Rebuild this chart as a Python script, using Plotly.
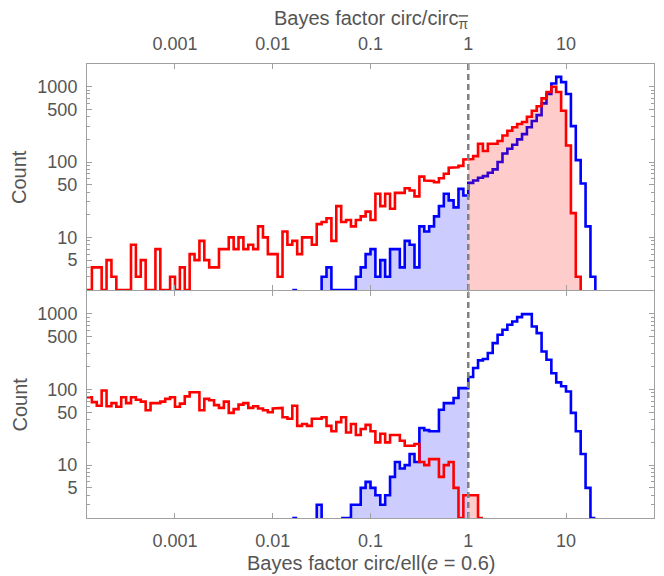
import plotly.graph_objects as go
import math

# ---- histogram data: counts per log10-bin of width 0.05, first bin index given ----
# bin k covers [10**(0.05*k), 10**(0.05*(k+1))]; 0 = empty bin (not drawn)
BIN_W = 0.05

top_red_start = -78
top_red = [1, 4, 4, 1, 5, 3, 1, 1, 1, 8, 3, 5, 1, 1, 7, 1, 1, 3, 1, 4,
           1, 6, 5, 9, 5, 4, 4, 7, 7, 10, 7, 10, 7, 8, 7, 14, 10, 6, 6, 3,
           12, 8, 9, 6, 10, 10, 8, 15, 16, 18, 9, 26, 16, 17, 14, 17, 19, 22, 17, 38,
           26, 38, 24, 39, 39, 45, 42, 35, 64, 57, 56, 54, 61, 70, 84, 85, 89, 108,
           110, 120, 175, 140, 175, 175, 190, 225, 260, 290, 320, 340, 400, 480, 550,
           700, 850, 1000, 850, 480, 166, 21, 3]

top_blue_start = -36
top_blue = [1, 0, 0, 0, 0, 0, 3, 4, 1, 1, 1, 1, 1, 3, 4, 6, 7, 3, 5, 3,
            7, 7, 4, 9, 8, 4, 14, 12, 14, 19, 26, 38, 31, 25, 44, 36,
            53, 57, 62, 65, 72, 80, 100, 130, 150, 170, 200, 235, 290, 350, 420,
            600, 800, 1100, 1350, 1150, 800, 300, 106, 52, 14, 3]

bottom_red_start = -78
bottom_red = [79, 68, 61, 97, 60, 66, 59, 79, 66, 79, 73, 69, 53, 66, 66, 69, 75, 79, 59, 65,
              81, 92, 92, 53, 75, 72, 62, 57, 69, 49, 55, 63, 66, 57, 60, 56, 53, 50, 56, 57,
              43, 41, 61, 33, 35, 33, 41, 41, 43, 33, 28, 37, 43, 27, 35, 25, 30, 34, 28, 20,
              26, 20, 25, 25, 21, 18, 18, 19, 11, 10, 12, 12, 7, 10, 11, 5, 1, 4,
              4, 4, 1]

bottom_blue_start = -36
bottom_blue = [1, 0, 0, 0, 0, 3, 0, 0, 0, 0, 1, 1, 3, 3, 5, 6, 5, 4, 3, 4,
               7, 11, 9, 10, 14, 11, 31, 29, 28, 28, 54, 66, 66, 77, 104, 104,
               146, 192, 242, 252, 303, 410, 528, 615, 716, 792, 904, 990, 990, 680, 555,
               318, 247, 164, 124, 110, 94, 49, 28, 14, 5, 1]

x_tick_vals = [0.001, 0.01, 0.1, 1, 10]
x_tick_text = ["0.001", "0.01", "0.1", "1", "10"]
y_tick_vals = [5, 10, 50, 100, 500, 1000]
y_tick_text = ["5", "10", "50", "100", "500", "1000"]
y_minor_vals = [3, 4, 6, 7, 8, 9, 20, 30, 40, 60, 70, 80, 90,
                200, 300, 400, 600, 700, 800, 900]

top_title = "Bayes factor circ/circ<sub><span style='text-decoration:overline'>π</span></sub>"
bottom_title = "Bayes factor circ/ell(<i>e</i> = 0.6)"
y_title = "Count"

Y_FLOOR = 2
Y_TOP = 2000
X_RANGE_LOG = [-3.9, 1.9]

RED = "#ff0000"
BLUE = "#0000ff"
RED_FILL = "rgba(255,0,0,0.2)"
BLUE_FILL = "rgba(0,0,255,0.2)"


def edge(k):
    return 10 ** (k * BIN_W)


def step_xy(start, counts, kmin=None, kmax=None, lead_first=True):
    xs, ys = [], []
    open_run = False
    last_k = None
    for i, c in enumerate(counts):
        k = start + i
        excluded = (kmin is not None and k < kmin) or (kmax is not None and k >= kmax) or not c
        if excluded:
            if open_run:
                xs += [edge(k), None]
                ys += [Y_FLOOR, None]
                open_run = False
            continue
        v = max(c, Y_FLOOR)
        if not open_run:
            if lead_first or i > 0:
                xs.append(edge(k))
                ys.append(Y_FLOOR)
            open_run = True
        xs += [edge(k), edge(k + 1)]
        ys += [v, v]
        last_k = k
    if open_run:
        xs.append(edge(last_k + 1))
        ys.append(Y_FLOOR)
    return xs, ys


fig = go.Figure()


def add_panel(red_start, red, blue_start, blue, xa, ya):
    bx, by = step_xy(blue_start, blue, kmax=0)
    fig.add_trace(go.Scatter(x=bx, y=by, mode="lines", fill="toself", fillcolor=BLUE_FILL,
                             line=dict(width=0), xaxis=xa, yaxis=ya, hoverinfo="skip"))
    bx, by = step_xy(blue_start, blue)
    fig.add_trace(go.Scatter(x=bx, y=by, mode="lines", line=dict(color=BLUE, width=2.6),
                             xaxis=xa, yaxis=ya, hoverinfo="skip"))
    rx, ry = step_xy(red_start, red, kmin=0)
    fig.add_trace(go.Scatter(x=rx, y=ry, mode="lines", fill="toself", fillcolor=RED_FILL,
                             line=dict(width=0), xaxis=xa, yaxis=ya, hoverinfo="skip"))
    rx, ry = step_xy(red_start, red, lead_first=False)
    fig.add_trace(go.Scatter(x=rx, y=ry, mode="lines", line=dict(color=RED, width=2.6),
                             xaxis=xa, yaxis=ya, hoverinfo="skip"))
    fig.add_trace(go.Scatter(x=[1, 1], y=[Y_FLOOR, Y_TOP], mode="lines",
                             line=dict(color="#808080", width=2.5, dash="6px,4px"),
                             xaxis=xa, yaxis=ya, hoverinfo="skip"))


add_panel(top_red_start, top_red, top_blue_start, top_blue, "x", "y")
add_panel(bottom_red_start, bottom_red, bottom_blue_start, bottom_blue, "x2", "y2")

FONT = "Liberation Sans, Arial, sans-serif"
FRAME = "#a0a0a0"
TXT = "#555555"

xcommon = dict(type="log", range=X_RANGE_LOG, showline=True, linecolor=FRAME, linewidth=1,
               mirror="ticks", ticks="inside", ticklen=5, tickcolor=FRAME, tickwidth=1,
               tickvals=x_tick_vals, ticktext=x_tick_text, showgrid=False, zeroline=False,
               automargin=False, ticklabelstandoff=6,
               tickfont=dict(family=FONT, size=18, color=TXT))
ycommon = dict(type="log", range=[math.log10(Y_FLOOR), math.log10(Y_TOP)], showline=True,
               linecolor=FRAME, linewidth=1, mirror="ticks", ticks="inside", ticklen=5,
               tickcolor=FRAME, tickwidth=1, tickvals=y_tick_vals, ticktext=y_tick_text,
               showgrid=False, zeroline=False, automargin=False, ticklabelstandoff=5,
               minor=dict(tickvals=y_minor_vals, ticks="inside", ticklen=3, tickcolor=FRAME),
               tickfont=dict(family=FONT, size=18, color=TXT))

# The page body adds an 8px offset, so the figure is 8px smaller and shifted.
OFF = 8
W, H = 664 - OFF, 576 - OFF
L, R, T, B = 87 - OFF, 10, 64 - OFF, 58
PW, PH = W - L - R, H - T - B


def px_x(px):
    return (px - OFF - L) / PW


def px_y(py):
    return (H - B - (py - OFF)) / PH


ann_font = dict(family=FONT, size=20, color=TXT)
annotations = [
    dict(text=top_title, x=0.5, y=px_y(19), xref="paper", yref="paper",
         xanchor="center", yanchor="middle", showarrow=False, font=ann_font),
    dict(text=bottom_title, x=0.5, y=px_y(563), xref="paper", yref="paper",
         xanchor="center", yanchor="middle", showarrow=False, font=ann_font),
    dict(text=y_title, x=px_x(19), y=0.751, xref="paper", yref="paper", textangle=-90,
         xanchor="center", yanchor="middle", showarrow=False, font=ann_font),
    dict(text=y_title, x=px_x(19), y=0.25, xref="paper", yref="paper", textangle=-90,
         xanchor="center", yanchor="middle", showarrow=False, font=ann_font),
]

fig.update_layout(
    width=W, height=H,
    margin=dict(l=L, r=R, t=T, b=B),
    paper_bgcolor="white", plot_bgcolor="white",
    showlegend=False,
    xaxis=dict(**xcommon, domain=[0, 1], anchor="y", side="top"),
    xaxis2=dict(**xcommon, domain=[0, 1], anchor="y2", matches="x"),
    yaxis=dict(**ycommon, domain=[0.502, 1], anchor="x"),
    yaxis2=dict(**ycommon, domain=[0, 0.5], anchor="x2"),
    annotations=annotations,
)

fig.write_html("out.html")
